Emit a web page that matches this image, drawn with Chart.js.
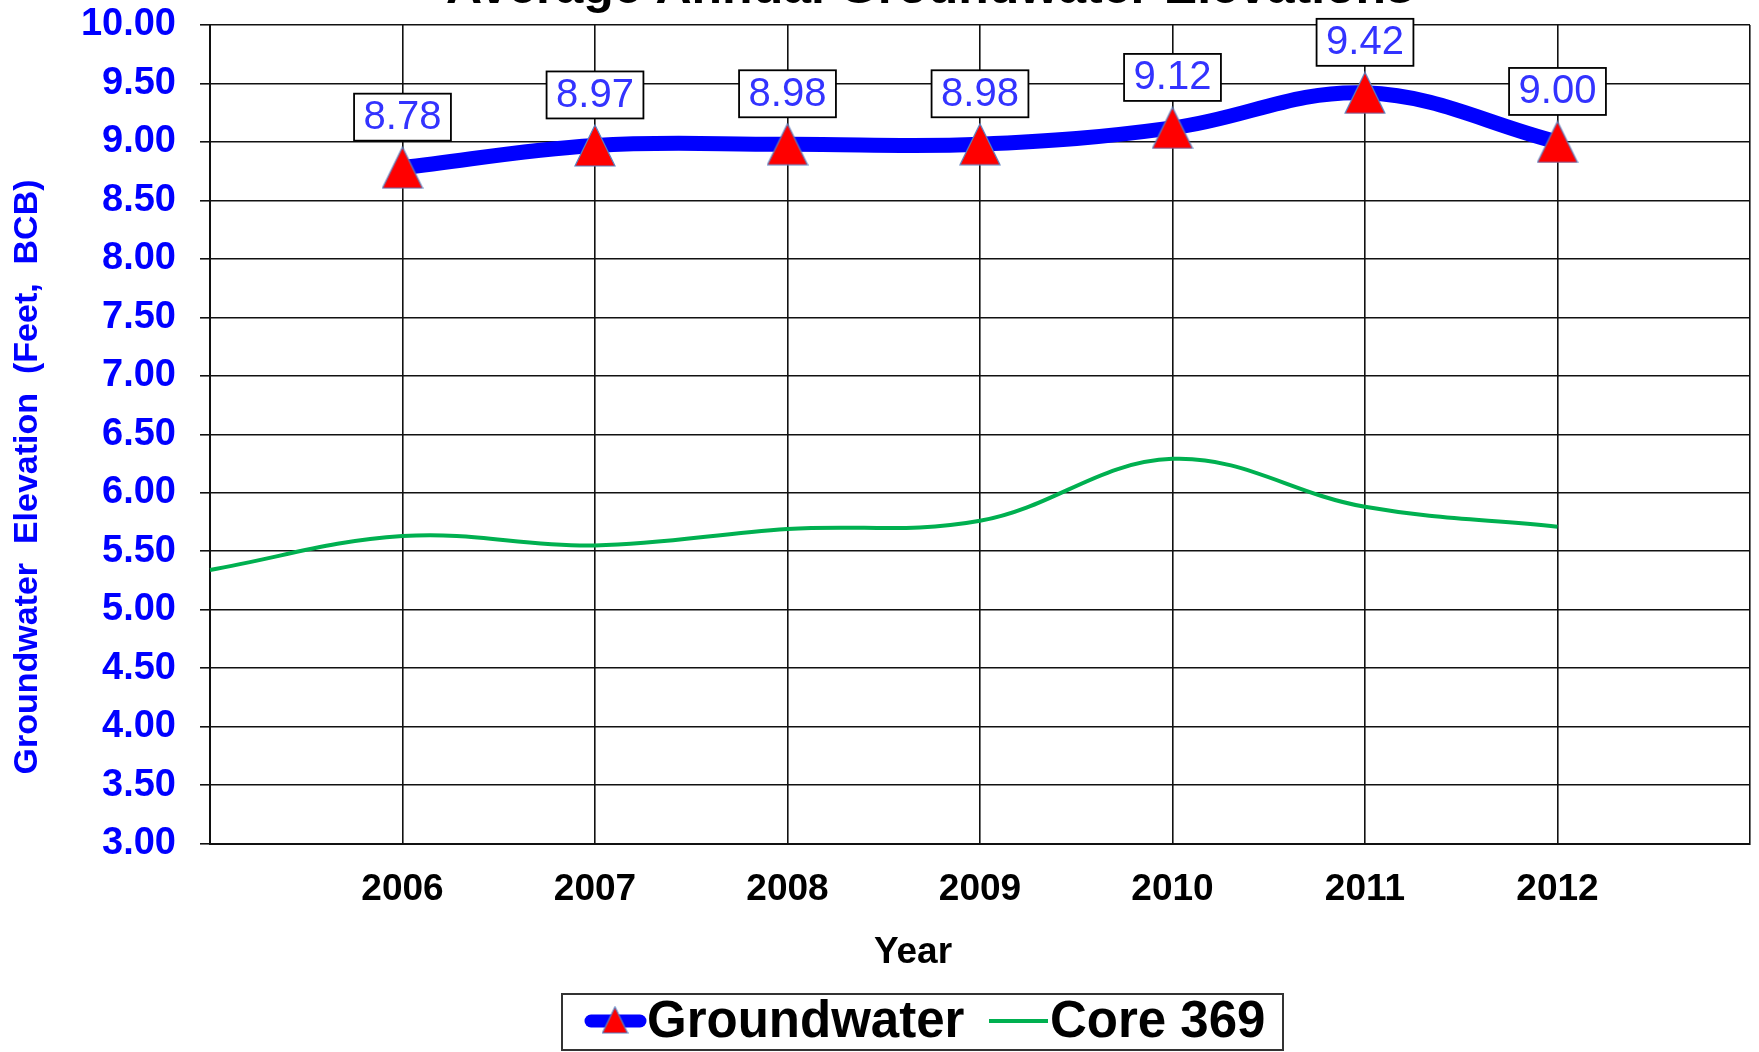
<!DOCTYPE html>
<html>
<head>
<meta charset="utf-8">
<script src="https://cdn.jsdelivr.net/npm/chart.js@4/dist/chart.umd.min.js"></script>
<style>
  html, body { margin: 0; padding: 0; background: #fff; overflow: hidden; }
  #wrap { position: relative; width: 1759px; height: 1052px; }
</style>
</head>
<body>
<div id="wrap"><canvas id="c" width="1759" height="1052"></canvas></div>
<script>
// ---- data ----
const years = ['2005', '2006', '2007', '2008', '2009', '2010', '2011', '2012', '2013'];
const xTickLabels = ['', '2006', '2007', '2008', '2009', '2010', '2011', '2012', ''];
const groundwater = [null, 8.78, 8.97, 8.98, 8.98, 9.12, 9.42, 9.00, null];
const core369 = [5.34, 5.63, 5.55, 5.69, 5.76, 6.29, 5.88, 5.71, null];
const seriesNames = ['Groundwater', 'Core 369'];
const chartTitle = 'Average Annual Groundwater Elevations';
const yTitle = 'Groundwater  Elevation  (Feet,  BCB)';
const xTitle = 'Year';
const yMin = 3, yMax = 10, yStep = 0.5;

const FONT = '"Liberation Sans", Arial, Helvetica, sans-serif';
const BLUE = '#0000FF';
const GREEN = '#00B050';

function makeTriangle(w, h) {
  const c = document.createElement('canvas');
  c.width = w; c.height = h;
  const g = c.getContext('2d');
  g.beginPath();
  g.moveTo(w / 2, 1);
  g.lineTo(w - 1, h - 1);
  g.lineTo(1, h - 1);
  g.closePath();
  g.fillStyle = '#FF0000';
  g.fill();
  g.lineWidth = 1.2;
  g.strokeStyle = '#5B7FBF';
  g.stroke();
  return c;
}
const triMarker = makeTriangle(42, 43);
const triLegend = makeTriangle(27, 28);

const decor = {
  id: 'decor',
  afterDatasetsDraw(chart) {
    const ctx = chart.ctx;
    const meta = chart.getDatasetMeta(0);
    ctx.save();
    ctx.font = '40px ' + FONT;
    ctx.textAlign = 'center';
    ctx.textBaseline = 'middle';
    meta.data.forEach((pt, i) => {
      const v = groundwater[i];
      if (v === null || v === undefined) return;
      const txt = v.toFixed(2);
      const tw = ctx.measureText(txt).width;
      const bw = tw + 19, bh = 47;
      const cx = pt.x, bottom = pt.y - 27;
      const top = bottom - bh;
      ctx.fillStyle = '#fff';
      ctx.fillRect(cx - bw / 2, top, bw, bh);
      ctx.lineWidth = 1.8;
      ctx.strokeStyle = '#000';
      ctx.strokeRect(cx - bw / 2, top, bw, bh);
      ctx.fillStyle = '#3333FF';
      ctx.fillText(txt, cx, top + bh / 2 + 1);
    });
    ctx.restore();
  },
  afterDraw(chart) {
    const ctx = chart.ctx;
    ctx.save();
    // chart title (mostly clipped at top)
    ctx.fillStyle = '#000';
    ctx.font = 'bold 50px ' + FONT;
    ctx.textAlign = 'center';
    ctx.textBaseline = 'alphabetic';
    ctx.fillText(chartTitle, 930, 3);
    // x title
    ctx.font = 'bold 37px ' + FONT;
    ctx.textBaseline = 'middle';
    ctx.fillText(xTitle, 913, 953);
    // y title
    ctx.save();
    ctx.translate(28, 477);
    ctx.rotate(-Math.PI / 2);
    ctx.fillStyle = BLUE;
    ctx.font = 'bold 34px ' + FONT;
    ctx.fillText(yTitle, 0, 0);
    ctx.restore();
    // legend
    ctx.fillStyle = '#fff';
    ctx.fillRect(562, 994, 721, 56);
    ctx.lineWidth = 2;
    ctx.strokeStyle = '#333';
    ctx.strokeRect(562, 994, 721, 56);
    const ly = 1021;
    ctx.lineCap = 'round';
    ctx.strokeStyle = BLUE;
    ctx.lineWidth = 13;
    ctx.beginPath(); ctx.moveTo(591, ly); ctx.lineTo(640, ly); ctx.stroke();
    ctx.drawImage(triLegend, 615 - 13.5, ly - 15);
    ctx.lineCap = 'butt';
    ctx.strokeStyle = GREEN;
    ctx.lineWidth = 4;
    ctx.beginPath(); ctx.moveTo(989, ly); ctx.lineTo(1048, ly); ctx.stroke();
    ctx.fillStyle = '#000';
    ctx.font = 'bold 51px ' + FONT;
    ctx.textAlign = 'left';
    ctx.textBaseline = 'middle';
    ctx.fillText(seriesNames[0], 647, ly + 2);
    ctx.fillText(seriesNames[1], 1050, ly + 2);
    ctx.restore();
  }
};

new Chart(document.getElementById('c'), {
  type: 'line',
  data: {
    labels: years,
    datasets: [
      {
        label: seriesNames[0],
        data: groundwater,
        borderColor: BLUE,
        borderWidth: 15,
        tension: 0.38,
        pointStyle: triMarker,
        pointRadius: 20,
        pointHoverRadius: 20,
        order: 0,
        clip: false
      },
      {
        label: seriesNames[1],
        data: core369,
        borderColor: GREEN,
        borderWidth: 4,
        tension: 0.38,
        pointRadius: 0,
        pointHoverRadius: 0,
        order: 1
      }
    ]
  },
  options: {
    responsive: false,
    animation: false,
    events: [],
    layout: { autoPadding: false, padding: { top: 25, right: 9, left: 0, bottom: 0 } },
    plugins: {
      legend: { display: false },
      title: { display: false },
      tooltip: { enabled: false }
    },
    scales: {
      x: {
        type: 'category',
        offset: false,
        grid: { color: '#111', lineWidth: 1.6, drawTicks: false },
        border: { color: '#111', width: 2 },
        ticks: {
          autoSkip: false,
          maxRotation: 0,
          padding: 24,
          color: '#000',
          font: { family: FONT, size: 37, weight: 'bold' },
          callback: (v, i) => xTickLabels[i]
        },
        afterFit: (s) => {
          s.height = 1052 - 843.6;
          s.paddingLeft = 0; s.paddingRight = 0; s.paddingTop = 0; s.paddingBottom = 0;
        }
      },
      y: {
        min: yMin,
        max: yMax,
        grid: { color: '#111', lineWidth: 1.6, drawTicks: true, tickLength: 10 },
        border: { color: '#111', width: 2 },
        ticks: {
          stepSize: yStep,
          padding: 24,
          color: BLUE,
          font: { family: FONT, size: 38, weight: 'bold' },
          callback: (v) => Number(v).toFixed(2)
        },
        afterFit: (s) => {
          s.width = 210;
          s.paddingLeft = 0; s.paddingRight = 0; s.paddingTop = 0; s.paddingBottom = 0;
        }
      }
    }
  },
  plugins: [decor]
});
</script>
</body>
</html>
